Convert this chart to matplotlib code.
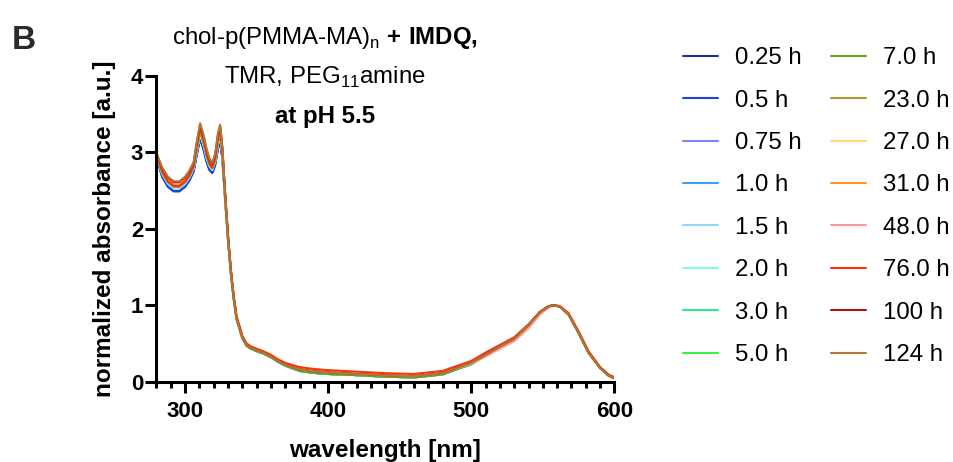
import matplotlib
matplotlib.use("Agg")
import matplotlib.pyplot as plt

plt.rcParams["font.family"] = ["Liberation Sans", "DejaVu Sans"]
plt.rcParams["mathtext.fontset"] = "custom"
plt.rcParams["mathtext.rm"] = "Liberation Sans"
plt.rcParams["mathtext.bf"] = "Liberation Sans:bold"

# wavelength grid [nm]: UV band (280-343) and visible part (346-600)
wl_uv = [280, 284, 288, 292, 296, 300, 303, 306, 308, 310.5, 313, 315, 317, 319, 321, 323,
         324.5, 326, 328, 330, 332, 334, 336, 340, 343]
wl_vis = [346, 350, 355, 360, 365, 370, 380, 390, 400, 420, 440, 460, 480, 500, 510, 520,
          530, 540, 548, 554, 558, 562, 568, 575, 582, 590, 596, 600]

# normalized absorbance, UV band
uv_a = [2.93, 2.68, 2.55, 2.49, 2.49, 2.55, 2.63, 2.75, 2.95, 3.18, 3.03, 2.88, 2.77, 2.73,
        2.83, 3.05, 3.13, 2.93, 2.38, 1.86, 1.42, 1.08, 0.82, 0.57, 0.47]
uv_b = [2.95, 2.72, 2.59, 2.53, 2.53, 2.59, 2.67, 2.79, 3.00, 3.24, 3.09, 2.93, 2.82, 2.77,
        2.88, 3.11, 3.20, 2.98, 2.40, 1.87, 1.43, 1.09, 0.82, 0.57, 0.47]
uv_c = [2.96, 2.74, 2.61, 2.55, 2.55, 2.61, 2.69, 2.81, 3.03, 3.28, 3.12, 2.96, 2.84, 2.79,
        2.90, 3.15, 3.24, 3.00, 2.42, 1.88, 1.43, 1.09, 0.82, 0.57, 0.47]
uv_d = [2.97, 2.76, 2.64, 2.58, 2.58, 2.64, 2.72, 2.83, 3.07, 3.32, 3.16, 3.00, 2.87, 2.82,
        2.93, 3.19, 3.29, 3.03, 2.44, 1.89, 1.44, 1.09, 0.83, 0.58, 0.48]
uv_76 = [2.97, 2.75, 2.62, 2.56, 2.56, 2.62, 2.70, 2.82, 3.06, 3.31, 3.15, 2.98, 2.86, 2.80,
         2.92, 3.18, 3.30, 3.05, 2.47, 1.92, 1.47, 1.12, 0.86, 0.60, 0.50]
uv_100 = [2.98, 2.79, 2.67, 2.61, 2.61, 2.67, 2.75, 2.86, 3.10, 3.36, 3.20, 3.03, 2.90, 2.85,
          2.96, 3.23, 3.34, 3.07, 2.45, 1.90, 1.45, 1.10, 0.83, 0.58, 0.48]
uv_124 = [2.99, 2.80, 2.68, 2.62, 2.62, 2.68, 2.76, 2.87, 3.12, 3.38, 3.22, 3.05, 2.92, 2.86,
          2.98, 3.25, 3.36, 3.08, 2.46, 1.90, 1.45, 1.10, 0.83, 0.58, 0.48]

# normalized absorbance, visible part
vis_early = [0.43, 0.40, 0.365, 0.32, 0.26, 0.21, 0.14, 0.115, 0.10, 0.085, 0.065, 0.055, 0.095,
             0.23, 0.34, 0.45, 0.55, 0.73, 0.91, 0.985, 1.00, 0.98, 0.88, 0.64, 0.38, 0.18, 0.08, 0.045]
vis_late = [0.44, 0.41, 0.375, 0.33, 0.27, 0.22, 0.16, 0.135, 0.12, 0.10, 0.08, 0.07, 0.11,
            0.25, 0.35, 0.46, 0.56, 0.74, 0.91, 0.985, 1.00, 0.98, 0.88, 0.64, 0.38, 0.18, 0.08, 0.045]
vis_shift = [0.44, 0.41, 0.375, 0.33, 0.27, 0.22, 0.16, 0.135, 0.12, 0.10, 0.08, 0.07, 0.11,
             0.24, 0.33, 0.43, 0.53, 0.70, 0.88, 0.97, 1.00, 0.99, 0.90, 0.66, 0.40, 0.19, 0.09, 0.05]
vis_76 = [0.46, 0.43, 0.395, 0.35, 0.29, 0.245, 0.19, 0.165, 0.15, 0.13, 0.11, 0.10, 0.14,
          0.27, 0.38, 0.48, 0.58, 0.75, 0.91, 0.985, 1.00, 0.98, 0.89, 0.65, 0.39, 0.19, 0.09, 0.06]

wavelength = wl_uv + wl_vis

time_labels = ["0.25 h", "0.5 h", "0.75 h", "1.0 h", "1.5 h", "2.0 h", "3.0 h", "5.0 h",
               "7.0 h", "23.0 h", "27.0 h", "31.0 h", "48.0 h", "76.0 h", "100 h", "124 h"]
spectra = [uv_a + vis_early, uv_a + vis_early, uv_b + vis_early, uv_b + vis_early,
           uv_b + vis_early, uv_b + vis_early, uv_c + vis_early, uv_c + vis_early,
           uv_c + vis_early, uv_c + vis_late, uv_d + vis_shift, uv_d + vis_late,
           uv_d + vis_shift, uv_76 + vis_76, uv_100 + vis_late, uv_124 + vis_late]
colors = ["#1f2f8f", "#1f3fe8", "#8080ff", "#40a0f0", "#90d8f8", "#80ffd8", "#30e890", "#40f040",
          "#60a020", "#a0a030", "#ffd880", "#ff9820", "#ff9898", "#ff3010", "#a01818", "#b07830"]

fig = plt.figure(figsize=(9.54, 4.62), dpi=100)
ax = fig.add_axes([0.164, 0.174, 0.480, 0.662])

handles = []
for label, y, c in zip(time_labels, spectra, colors):
    (line,) = ax.plot(wavelength, y, color=c, lw=1.5, label=label,
                      solid_joinstyle="round", solid_capstyle="round")
    handles.append(line)

ax.set_xlim(280, 600)
ax.set_ylim(0, 4)
ax.set_xticks([300, 400, 500, 600])
ax.set_xticks(range(280, 601, 10), minor=True)
ax.set_yticks([0, 1, 2, 3, 4])
for side in ["top", "right"]:
    ax.spines[side].set_visible(False)
for side in ["left", "bottom"]:
    ax.spines[side].set_linewidth(2.2)
ax.tick_params(axis="both", which="major", width=2.2, length=8, labelsize=16)
ax.tick_params(axis="x", which="major", pad=6)
ax.tick_params(axis="y", which="major", pad=1.5)
ax.tick_params(axis="x", which="minor", width=2.2, length=4.5)
for lbl in ax.get_xticklabels() + ax.get_yticklabels():
    lbl.set_fontweight("bold")

ax.set_xlabel("wavelength [nm]", fontsize=17.5, fontweight="bold", labelpad=12)
ax.set_ylabel("normalized absorbance [a.u.]", fontsize=17.5, fontweight="bold", labelpad=11)

fig.text(0.3407, 0.905, r"chol-p(PMMA-MA)$_\mathrm{n}$ $\mathbf{+\ IMDQ,}$",
         ha="center", va="baseline", fontsize=17.3)
fig.text(0.3407, 0.819, r"TMR, PEG$_\mathrm{11}$amine", ha="center", va="baseline", fontsize=17.3)
fig.text(0.3407, 0.733, "at pH 5.5", ha="center", va="baseline", fontsize=17.3, fontweight="bold")

fig.text(0.0126, 0.912, "B", ha="left", va="center", fontsize=24, fontweight="bold", color="#2b2b2b")

fig.legend(handles=handles, ncol=2, loc="upper left", bbox_to_anchor=(0.716, 0.898),
           frameon=False, fontsize=17.3, handlelength=1.46, handletextpad=0.71,
           labelspacing=0.85, columnspacing=1.2, borderaxespad=0, borderpad=0)

fig.savefig("out.png", dpi=100)
